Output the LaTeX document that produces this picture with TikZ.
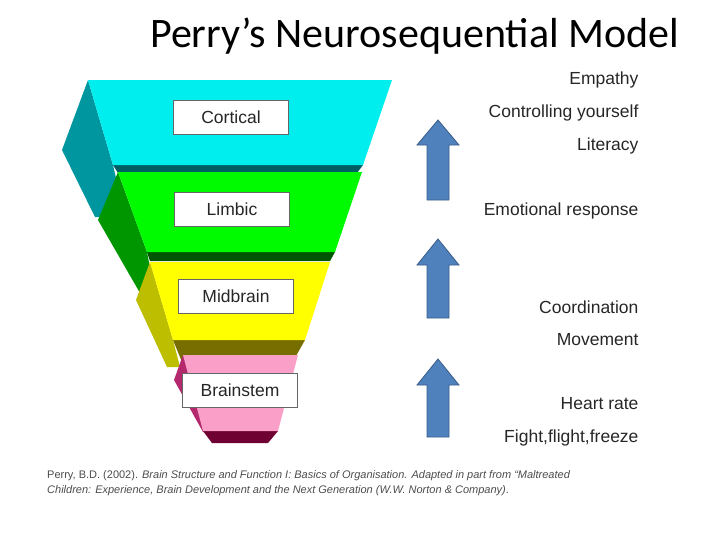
\documentclass[tikz,border=0pt]{standalone}
\usepackage{fontspec}
\setmainfont{Liberation Sans}
\newfontfamily\titlefont{Carlito}
\definecolor{cyanF}{RGB}{0,238,238}
\definecolor{cyanS}{RGB}{0,150,160}
\definecolor{cyanB}{RGB}{0,95,100}
\definecolor{greenF}{RGB}{0,250,0}
\definecolor{greenS}{RGB}{0,150,0}
\definecolor{greenB}{RGB}{0,85,0}
\definecolor{yelF}{RGB}{255,255,0}
\definecolor{yelS}{RGB}{190,190,0}
\definecolor{yelB}{RGB}{120,110,0}
\definecolor{pinkF}{RGB}{250,160,200}
\definecolor{pinkS}{RGB}{180,40,110}
\definecolor{pinkB}{RGB}{110,0,50}
\begin{document}
\begin{tikzpicture}[x=1pt,y=-1pt,
 lab/.style={draw=black!60,fill=white,minimum width=115pt,minimum height=34pt,font=\fontsize{17.5}{20}\selectfont,inner sep=0pt,text=black!85},
 rt/.style={anchor=east,font=\fontsize{17.5}{20}\selectfont,text=black!85},
 arr/.style={fill={rgb,255:red,79;green,129;blue,189},draw={rgb,255:red,56;green,93;blue,138},line width=0.8pt}]
\useasboundingbox (0,0) rectangle (720,539);
\node[font=\titlefont\fontsize{42}{46}\selectfont,anchor=west,inner sep=0pt] (title) at (150,36) {Perry’s Neurosequential Model};
% cortical
\fill[cyanS] (88,80)--(62,150)--(95,217)--(125,217)--(113,165)--cycle;
\fill[cyanB] (113,165)--(363,165)--(357,173)--(118,173)--cycle;
\fill[cyanF] (88,80)--(392,80)--(363,165)--(113,165)--cycle;
% limbic
\fill[greenS] (118,172)--(98,220)--(140,293)--(155,293)--(147,252)--cycle;
\fill[greenB] (147,252)--(335,252)--(330,261)--(150,261)--cycle;
\fill[greenF] (118,172)--(362,172)--(335,252)--(147,252)--cycle;
% midbrain
\fill[yelS] (150,262)--(136,300)--(167,367)--(180,367)--(173,340)--cycle;
\fill[yelB] (173,340)--(305,340)--(296,356)--(182,362)--cycle;
\fill[yelF] (150,262)--(330,262)--(305,340)--(173,340)--cycle;
% brainstem
\fill[pinkS] (183,355)--(174,380)--(203,432)--(210,432)--cycle;
\fill[pinkB] (203,431)--(278,431)--(268,443)--(212,443)--cycle;
\fill[pinkF] (183,355)--(298,355)--(278,431)--(203,431)--cycle;
\node[lab] (cortical) at (231,117) {Cortical};
\node[lab] (limbic) at (232,209) {Limbic};
\node[lab] (midbrain) at (236,296) {Midbrain};
\node[lab] (brainstem) at (240,390) {Brainstem};
% arrows
\draw[arr] (427,200)--(427,145)--(417,145)--(438,120)--(459,145)--(449,145)--(449,200)--cycle;
\draw[arr] (427,318)--(427,265)--(417,265)--(438,239)--(459,265)--(449,265)--(449,318)--cycle;
\draw[arr] (427,437)--(427,385)--(417,385)--(438,359)--(459,385)--(449,385)--(449,437)--cycle;
\node[rt] (t1) at (642,80) {Empathy};
\node[rt] (t2) at (642,113) {Controlling yourself};
\node[rt] (t3) at (642,146) {Literacy};
\node[rt] (t4) at (642,211) {Emotional response};
\node[rt] (t5) at (642,307) {Coordination};
\node[rt] (t6) at (642,340) {Movement};
\node[rt] (t7) at (642,404) {Heart rate};
\node[rt] (t8) at (642,438) {Fight,flight,freeze};
\node[anchor=north west,align=left,text=black!70,font=\fontsize{11}{15}\selectfont,inner sep=0pt] (ref) at (47,470)
 {Perry, B.D. (2002). \textit{Brain Structure and Function I: Basics of Organisation. Adapted in part from “Maltreated}\\
  \textit{Children: Experience, Brain Development and the Next Generation (W.W. Norton \& Company)}.};
\end{tikzpicture}
\end{document}
